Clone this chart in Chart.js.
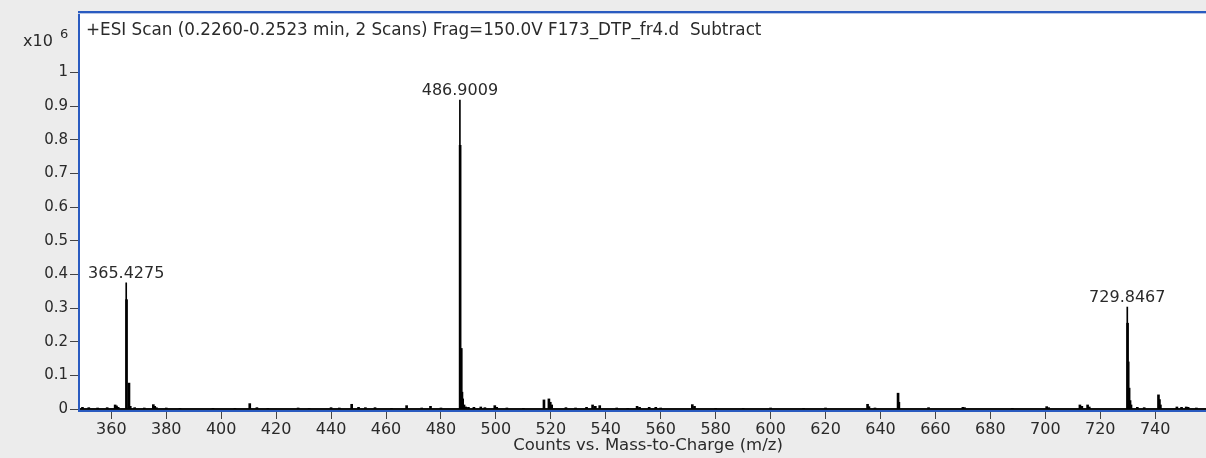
<!DOCTYPE html>
<html><head><meta charset="utf-8">
<script src="https://cdn.jsdelivr.net/npm/chart.js@4.4.1/dist/chart.umd.min.js"></script>
<style>
html,body{margin:0;padding:0;background:#ececec;overflow:hidden}
#wrap{position:relative;width:1206px;height:458px}
canvas{display:block}
</style></head><body>
<div id="wrap"><canvas id="c" width="1206" height="458"></canvas></div>
<script>
// ---- text ----
const titleText = '+ESI Scan (0.2260-0.2523 min, 2 Scans) Frag=150.0V F173_DTP_fr4.d  Subtract';
const xAxisTitle = 'Counts vs. Mass-to-Charge (m/z)';
const yScaleLabel = 'x10';
const yScaleExp = '6';
// ---- ticks ----
const xTicks = [360,380,400,420,440,460,480,500,520,540,560,580,600,620,640,660,680,700,720,740];
const yTicks = [0,0.1,0.2,0.3,0.4,0.5,0.6,0.7,0.8,0.9,1];
const yTickLabels = ['0','0.1','0.2','0.3','0.4','0.5','0.6','0.7','0.8','0.9','1'];
// ---- labelled apex sticks (m/z, intensity x10^6) ----
const apexMz = [365.4275, 486.9009, 729.8467];
const apexInt = [0.375, 0.918, 0.303];
const apexLabels = ['365.4275', '486.9009', '729.8467'];
// ---- peak bodies / isotopes ----
const bodyMz = [365.55,366.43,366.9,486.98,487.40,487.65,487.90,488.4,489.0,729.95,730.18,730.51,730.85,731.2,741.2,741.55,741.9,646.4,646.7,517.5,519.3,519.8,520.3];
const bodyInt = [0.325,0.077,0.008,0.784,0.18,0.05,0.03,0.012,0.006,0.255,0.14,0.062,0.025,0.012,0.042,0.028,0.012,0.047,0.02,0.027,0.03,0.02,0.012];
// ---- minor peaks ----
const minorMz = [349.5,351.8,355,358.5,361.4,361.9,362.5,368.5,372,375.3,375.8,376.4,380,385,397,405,410.4,413,417,428,432,440,443,447.5,450,452.5,456,462,467.5,473,476.2,480,490,492,494.5,496,499.6,500.3,504,510,525.5,529,533,535.2,536.2,537.8,544,548,551.4,552.3,555.8,558.2,560,571.5,572.3,580,590,600,612,620,635.3,635.8,638,657.5,670,670.6,688,700.5,701.2,712.6,713.3,715.4,716,733.5,736,747.9,749.6,751.3,752,755];
const minorInt = [0.005,0.004,0.003,0.004,0.012,0.009,0.005,0.004,0.003,0.013,0.008,0.004,0.003,0.002,0.002,0.002,0.016,0.004,0.002,0.003,0.002,0.004,0.003,0.014,0.005,0.004,0.004,0.002,0.01,0.003,0.008,0.003,0.005,0.005,0.006,0.004,0.01,0.005,0.003,0.002,0.004,0.003,0.005,0.012,0.008,0.01,0.003,0.002,0.008,0.005,0.005,0.005,0.003,0.013,0.008,0.002,0.002,0.003,0.002,0.003,0.014,0.007,0.003,0.004,0.005,0.004,0.002,0.007,0.004,0.012,0.008,0.012,0.006,0.005,0.004,0.006,0.005,0.006,0.005,0.003];

const FONT = '"DejaVu Sans", sans-serif';
const TEXT = '#2a2a2a';
const BLUE = '#2a5bc0';

function pts(xs, ys){ return xs.map((x,i)=>({x:x, y:ys[i]})); }

const decor = {
  id: 'decor',
  beforeDraw(chart){
    const {ctx, chartArea:a} = chart;
    ctx.save();
    ctx.fillStyle = '#ececec';
    ctx.fillRect(0,0,chart.width,chart.height);
    ctx.fillStyle = '#ffffff';
    ctx.fillRect(a.left, a.top, a.right-a.left, a.bottom-a.top+1);
    ctx.restore();
  },
  afterDraw(chart){
    const {ctx, chartArea:a, scales} = chart;
    ctx.save();
    // top border
    ctx.fillStyle = BLUE;
    ctx.fillRect(a.left-1, a.top-1, a.right-a.left+1, 2);
    ctx.fillStyle = '#b8c6e6';
    ctx.fillRect(a.left-1, a.top+1, a.right-a.left+1, 1);
    // blue line under baseline
    ctx.fillStyle = BLUE;
    ctx.fillRect(a.left-1, a.bottom+1, a.right-a.left+1, 2);
    // title
    ctx.fillStyle = TEXT;
    ctx.font = '16.8px ' + FONT;
    ctx.textBaseline = 'middle';
    ctx.textAlign = 'left';
    ctx.fillText(titleText, 86, 31);
    // x10^6
    ctx.font = '16px ' + FONT;
    ctx.fillText(yScaleLabel, 23, 42);
    ctx.font = '13px ' + FONT;
    ctx.fillText(yScaleExp, 60, 35);
    // peak labels
    ctx.font = '16px ' + FONT;
    ctx.textAlign = 'center';
    ctx.textBaseline = 'alphabetic';
    apexMz.forEach((m,i)=>{
      const px = scales.x.getPixelForValue(m);
      const py = scales.y.getPixelForValue(apexInt[i]);
      ctx.fillText(apexLabels[i], px, py - 5);
    });
    // x axis title
    ctx.font = '16.5px ' + FONT;
    ctx.textBaseline = 'middle';
    ctx.fillText(xAxisTitle, 648, 446);
    ctx.restore();
  }
};

new Chart(document.getElementById('c'), {
  type: 'bar',
  data: {
    datasets: [
      { data: pts(minorMz, minorInt), backgroundColor:'#000', barThickness:2, grouped:false },
      { data: pts(bodyMz, bodyInt), backgroundColor:'#000', barThickness:2, grouped:false },
      { data: pts(apexMz, apexInt), backgroundColor:'#000', barThickness:1, grouped:false }
    ]
  },
  options: {
    responsive:false, animation:false, events:[],
    layout:{ padding:{ top:12, left:0, right:0, bottom:0 } },
    plugins:{ legend:{display:false}, tooltip:{enabled:false} },
    scales:{
      x:{
        type:'linear', min:348.24, max:758.5, offset:false,
        afterBuildTicks(s){ s.ticks = xTicks.map(v=>({value:v})); },
        afterFit(s){ s.height = 49; },
        grid:{ offset:false, drawOnChartArea:false, drawTicks:true, tickLength:10, color:'#444', tickColor:'#444' },
        border:{ display:true, color:'#111', width:2 },
        ticks:{ font:{family:FONT, size:16}, color:TEXT, padding:1, maxRotation:0, autoSkip:false,
          callback:(v)=>String(v) }
      },
      y:{
        type:'linear', min:0, max:1.18,
        afterBuildTicks(s){ s.ticks = yTicks.map(v=>({value:v})); },
        afterFit(s){ s.width = 79; },
        grid:{ offset:false, drawOnChartArea:false, drawTicks:true, tickLength:9, color:'#444', tickColor:'#444' },
        border:{ display:true, color:BLUE, width:2 },
        ticks:{ font:{family:FONT, size:15}, color:TEXT, padding:2, autoSkip:false,
          callback:(v,i)=>yTickLabels[i] }
      }
    }
  },
  plugins:[decor]
});
</script>
</body></html>
